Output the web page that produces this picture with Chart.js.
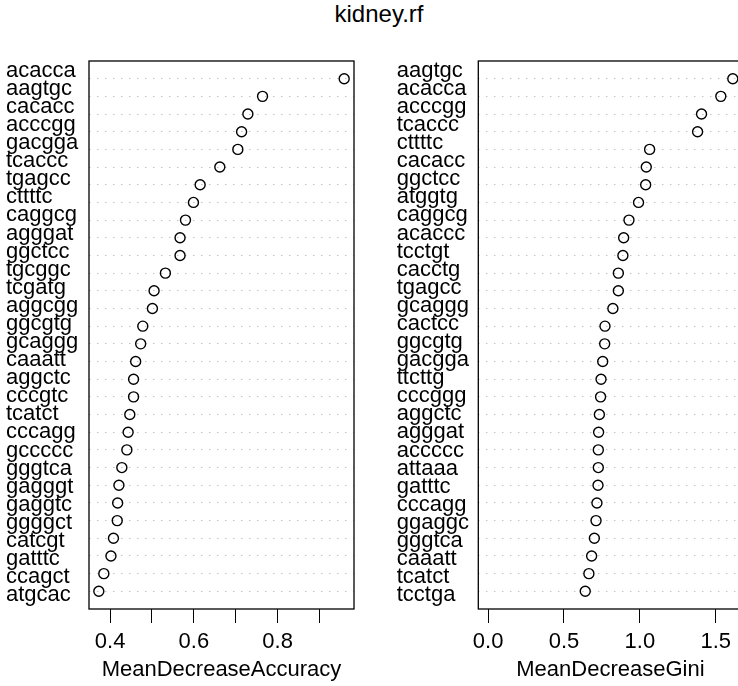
<!DOCTYPE html>
<html>
<head>
<meta charset="utf-8">
<script src="https://cdn.jsdelivr.net/npm/chart.js@4.4.1/dist/chart.umd.min.js"></script>
<style>
    body { margin: 0; background: #fff; width: 738px; height: 686px; overflow: hidden; position: relative; font-family: 'Liberation Sans', Arial, sans-serif; }
    #title { position: absolute; left: 279px; width: 200px; top: 2px; line-height: 24px; text-align: center; font-size: 24px; color: #000; }
    #accBox { position: absolute; left: 0; top: 0; width: 369px; height: 686px; }
    #giniBox { position: absolute; left: 369px; top: 0; width: 380px; height: 686px; }
</style>
</head>
<body>
<div id="title">kidney.rf</div>
<div id="accBox"><canvas id="accChart"></canvas></div>
<div id="giniBox"><canvas id="giniChart"></canvas></div>
<script>
// left panel, top to bottom
const accLabels = ['acacca', 'aagtgc', 'cacacc', 'acccgg', 'gacgga', 'tcaccc', 'tgagcc', 'cttttc', 'caggcg', 'agggat',
    'ggctcc', 'tgcggc', 'tcgatg', 'aggcgg', 'ggcgtg', 'gcaggg', 'caaatt', 'aggctc', 'cccgtc', 'tcatct',
    'cccagg', 'gccccc', 'gggtca', 'gagggt', 'gaggtc', 'ggggct', 'catcgt', 'gatttc', 'ccagct', 'atgcac'];
const accValues = [0.959, 0.764, 0.729, 0.714, 0.705, 0.662, 0.615, 0.599, 0.580, 0.567,
    0.567, 0.532, 0.505, 0.501, 0.478, 0.473, 0.461, 0.456, 0.456, 0.447,
    0.443, 0.440, 0.428, 0.421, 0.418, 0.417, 0.408, 0.402, 0.385, 0.373];
const accTicks = [0.4, 0.5, 0.6, 0.7, 0.8, 0.9];
const accTickLabels = ['0.4', '', '0.6', '', '0.8', ''];

// right panel, top to bottom
const giniLabels = ['aagtgc', 'acacca', 'acccgg', 'tcaccc', 'cttttc', 'cacacc', 'ggctcc', 'atggtg', 'caggcg', 'acaccc',
    'tcctgt', 'cacctg', 'tgagcc', 'gcaggg', 'cactcc', 'ggcgtg', 'gacgga', 'ttcttg', 'cccggg', 'aggctc',
    'agggat', 'accccc', 'attaaa', 'gatttc', 'cccagg', 'ggaggc', 'gggtca', 'caaatt', 'tcatct', 'tcctga'];
const giniValues = [1.612, 1.533, 1.406, 1.380, 1.064, 1.042, 1.038, 0.991, 0.928, 0.893,
    0.888, 0.858, 0.858, 0.822, 0.770, 0.768, 0.755, 0.744, 0.741, 0.733,
    0.728, 0.726, 0.726, 0.724, 0.717, 0.711, 0.700, 0.682, 0.664, 0.640];
const giniTicks = [0, 0.5, 1.0, 1.5];
const giniTickLabels = ['0.0', '0.5', '1.0', '1.5'];

const FONT = "'Liberation Sans', Arial, sans-serif";

// frame round the plot region
const boxPlugin = {
    id: 'box',
    afterDraw(chart) {
        const { ctx, chartArea: a } = chart;
        ctx.save();
        ctx.strokeStyle = '#000';
        ctx.lineWidth = 1.3;
        ctx.strokeRect(a.left, a.top, a.right - a.left, a.bottom - a.top);
        ctx.restore();
    }
};

function makeDotChart(id, labels, values, ticks, tickLabels, xFromZero, title, pad, labelWidth) {
    const lo = xFromZero ? 0 : Math.min(...values);
    const hi = Math.max(...values);
    const ext = (hi - lo) * 0.04;
    const n = labels.length;

    return new Chart(document.getElementById(id), {
        type: 'scatter',
        data: {
            datasets: [{
                data: values.map((v, i) => ({ x: v, y: i + 1 })),
                pointStyle: 'circle',
                pointRadius: 5,
                pointBorderWidth: 1.4,
                pointBorderColor: '#000',
                pointBackgroundColor: 'rgba(0,0,0,0)',
                yAxisID: 'y'
            }]
        },
        options: {
            responsive: true,
            maintainAspectRatio: false,
            animation: false,
            layout: { padding: pad },
            plugins: { legend: { display: false }, tooltip: { enabled: false } },
            scales: {
                x: {
                    type: 'linear',
                    min: lo - ext,
                    max: hi + ext,
                    afterBuildTicks: s => { s.ticks = ticks.map(v => ({ value: v })); },
                    afterFit: s => { s.height = 77; },
                    ticks: {
                        callback: (v, i) => tickLabels[i],
                        autoSkip: false,
                        maxRotation: 0,
                        padding: 6,
                        color: '#000',
                        font: { size: 22, family: FONT }
                    },
                    grid: { drawOnChartArea: false, drawTicks: true, tickLength: 14, color: '#000', lineWidth: 1 },
                    border: { display: false },
                    title: {
                        display: true,
                        text: title,
                        color: '#000',
                        font: { size: 22, family: FONT },
                        padding: { top: 1, bottom: 3 }
                    }
                },
                // row scale: points and dotted guide lines
                y: {
                    type: 'linear',
                    position: 'left',
                    min: 0,
                    max: n + 1,
                    reverse: true,
                    afterBuildTicks: s => { s.ticks = labels.map((_, i) => ({ value: i + 1 })); },
                    afterFit: s => { s.width = 0; },
                    ticks: { display: false },
                    grid: { drawTicks: false, color: '#c4c4c4', lineWidth: 1 },
                    border: { display: false, dash: [1.5, 6.5] }
                },
                // label scale, spaced a little wider than the rows
                yl: {
                    type: 'linear',
                    position: 'left',
                    min: 0.46,
                    max: n + 0.77,
                    reverse: true,
                    afterBuildTicks: s => { s.ticks = labels.map((_, i) => ({ value: i + 1 })); },
                    afterFit: s => { s.width = labelWidth; },
                    ticks: {
                        callback: (v, i) => labels[i],
                        crossAlign: 'far',
                        autoSkip: false,
                        padding: 0,
                        color: '#000',
                        font: { size: 22, family: FONT }
                    },
                    grid: { display: false },
                    border: { display: false }
                }
            }
        },
        plugins: [boxPlugin]
    });
}

makeDotChart('accChart', accLabels, accValues, accTicks, accTickLabels, false, 'MeanDecreaseAccuracy',
    { left: 6, right: 15, top: 61, bottom: 0 }, 83);
makeDotChart('giniChart', giniLabels, giniValues, giniTicks, giniTickLabels, true, 'MeanDecreaseGini',
    { left: 27.7, right: 6, top: 61, bottom: 0 }, 81.6);
</script>
</body>
</html>
